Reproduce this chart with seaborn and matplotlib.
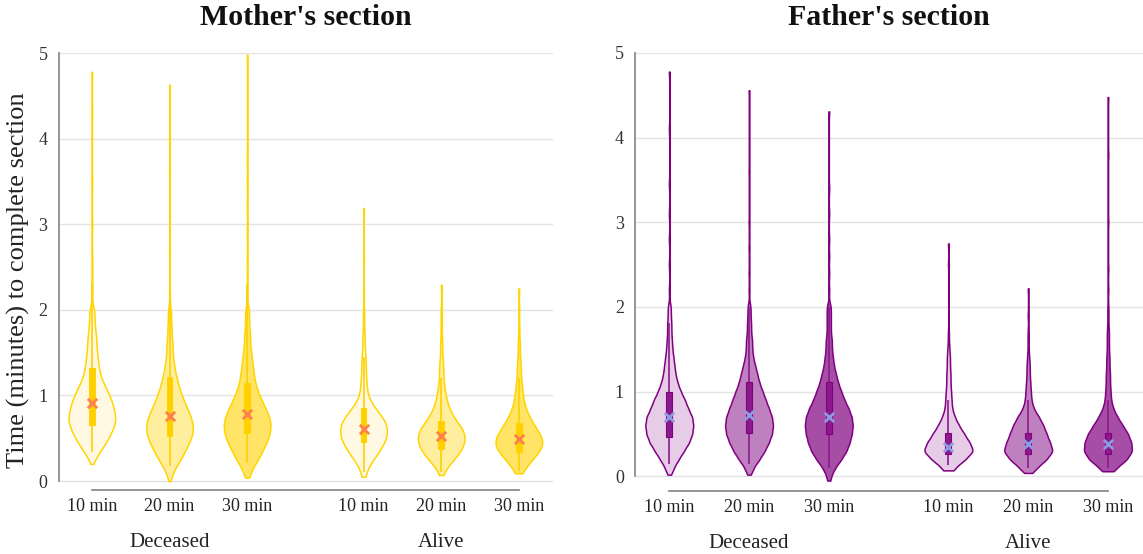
import numpy as np
import pandas as pd
import matplotlib
matplotlib.use("Agg")
import matplotlib.pyplot as plt
import seaborn as sns

# ---------------- data ----------------
statuses = ["Deceased", "Alive"]
times = ["10 min", "20 min", "30 min"]

# binned response times (minutes): bin values and counts per violin
value_grid = [0.0, 0.1, 0.2, 0.3, 0.4, 0.5, 0.6, 0.7, 0.8, 0.9, 1.0,
              1.1, 1.2, 1.3, 1.4, 1.5, 1.6, 1.7, 1.8, 1.9, 2.0]

# Mother's section
mother_deceased_10_counts = [0, 0, 0, 10, 22, 32, 40, 46, 44, 40, 34, 26, 18, 14, 12, 10, 9, 8, 6, 5, 5]
mother_deceased_20_counts = [0, 6, 16, 26, 34, 42, 46, 44, 38, 30, 24, 18, 14, 10, 8, 6, 6, 4, 4, 3, 3]
mother_deceased_30_counts = [0, 6, 16, 26, 34, 42, 46, 46, 40, 32, 24, 18, 14, 12, 10, 8, 6, 6, 4, 4, 4]
mother_alive_10_counts = [0, 4, 12, 24, 34, 42, 44, 40, 28, 16, 8, 6, 5, 4, 4, 3, 2, 2, 1, 1, 1]
mother_alive_20_counts = [0, 4, 16, 30, 40, 44, 40, 28, 18, 12, 8, 6, 4, 4, 3, 2, 2, 1, 1, 1, 1]
mother_alive_30_counts = [0, 6, 18, 32, 44, 44, 34, 24, 16, 10, 8, 6, 4, 4, 3, 2, 2, 1, 1, 0, 0]
# single observations outside the binned body (low tips and long upper tails)
mother_deceased_10_extra = [0.20, 0.25, 2.2, 2.3, 2.45, 2.6, 3.0, 3.5, 4.3, 4.78]
mother_deceased_20_extra = [0.0, 0.05, 2.2, 2.45, 2.7, 3.1, 3.6, 4.0, 4.63]
mother_deceased_30_extra = [0.04, 0.07, 2.2, 2.4, 2.6, 2.9, 3.2, 3.5, 3.75, 4.98]
mother_alive_10_extra = [0.05, 0.08, 2.2, 2.6, 3.19]
mother_alive_20_extra = [0.07, 2.29]
mother_alive_30_extra = [0.09, 2.0, 2.25]

# Father's section
father_deceased_10_counts = [0, 8, 18, 28, 38, 44, 46, 44, 36, 30, 22, 16, 12, 10, 8, 6, 5, 4, 4, 3, 3]
father_deceased_20_counts = [0, 8, 20, 30, 38, 44, 46, 44, 38, 32, 26, 20, 16, 12, 8, 6, 6, 4, 4, 3, 3]
father_deceased_30_counts = [4, 12, 24, 34, 40, 44, 46, 44, 38, 30, 24, 18, 14, 10, 8, 6, 6, 4, 4, 4, 4]
father_alive_10_counts = [0, 12, 32, 48, 40, 30, 20, 12, 7, 6, 5, 4, 4, 3, 3, 2, 1, 0, 0, 0, 0]
father_alive_20_counts = [0, 16, 34, 46, 40, 34, 28, 20, 10, 6, 5, 4, 3, 3, 2, 1, 1, 1, 0, 0, 0]
father_alive_30_counts = [0, 16, 36, 46, 44, 38, 28, 18, 10, 6, 5, 4, 4, 3, 3, 2, 2, 2, 1, 1, 1]
father_deceased_10_extra = [0.02, 0.05, 2.2, 2.5, 2.8, 3.1, 3.45, 4.1, 4.78]
father_deceased_20_extra = [0.02, 0.05, 2.2, 2.4, 2.7, 3.0, 3.6, 4.56]
father_deceased_30_extra = [-0.05, 2.2, 2.4, 2.6, 2.8, 3.1, 3.4, 4.31]
father_alive_10_extra = [0.07, 1.7, 2.5, 2.75]
father_alive_20_extra = [0.04, 1.9, 2.22]
father_alive_30_extra = [0.06, 2.2, 2.45, 3.0, 3.8, 4.48]

# box statistics per violin (Deceased 10/20/30, Alive 10/20/30)
mother_q1 = [0.66, 0.53, 0.56, 0.45, 0.37, 0.34]
mother_q3 = [1.32, 1.22, 1.14, 0.85, 0.70, 0.68]
mother_mean = [0.91, 0.76, 0.78, 0.61, 0.52, 0.49]
mother_whisk_lo = [0.34, 0.17, 0.21, 0.10, 0.10, 0.12]
mother_whisk_hi = [2.31, 2.23, 2.30, 1.45, 1.20, 1.20]

father_q1 = [0.47, 0.51, 0.50, 0.26, 0.26, 0.26]
father_q3 = [1.00, 1.11, 1.11, 0.51, 0.51, 0.51]
father_mean = [0.70, 0.72, 0.70, 0.35, 0.38, 0.38]
father_whisk_lo = [0.15, 0.14, 0.10, 0.13, 0.10, 0.10]
father_whisk_hi = [1.81, 2.00, 2.00, 0.90, 0.90, 0.90]

y_ticks = [0, 1, 2, 3, 4, 5]

mother_counts = [mother_deceased_10_counts, mother_deceased_20_counts, mother_deceased_30_counts,
                 mother_alive_10_counts, mother_alive_20_counts, mother_alive_30_counts]
mother_extra = [mother_deceased_10_extra, mother_deceased_20_extra, mother_deceased_30_extra,
                mother_alive_10_extra, mother_alive_20_extra, mother_alive_30_extra]
father_counts = [father_deceased_10_counts, father_deceased_20_counts, father_deceased_30_counts,
                 father_alive_10_counts, father_alive_20_counts, father_alive_30_counts]
father_extra = [father_deceased_10_extra, father_deceased_20_extra, father_deceased_30_extra,
                father_alive_10_extra, father_alive_20_extra, father_alive_30_extra]

# ---------------- style ----------------
sns.set_theme(style="white")
plt.rcParams["font.family"] = ["Liberation Serif", "DejaVu Serif"]

GROUP_GAP = 0.5
positions = [i + si * (len(times) + GROUP_GAP) for si in range(len(statuses)) for i in range(len(times))]


def build_frame(counts, extra):
    rows = []
    k = 0
    for si, st in enumerate(statuses):
        for ti, tm in enumerate(times):
            vals = list(np.repeat(value_grid, counts[k])) + list(extra[k])
            for v in vals:
                rows.append({"pos": positions[k], "status": st, "time": tm, "value": float(v)})
            k += 1
    return pd.DataFrame(rows)


def fixed_bw(h):
    def f(kde):
        return h / np.std(kde.dataset, ddof=1)
    return f


fig = plt.figure(figsize=(11.43, 5.54), dpi=100)
W, H = 1143, 554
axL = fig.add_axes([58.5 / W, (H - 490) / H, 494.5 / W, 437 / H])
axR = fig.add_axes([635 / W, (H - 490.7) / H, 508 / W, 437.7 / H])

panels = [
    (axL, "Mother's section", mother_counts, mother_extra, mother_q1, mother_q3, mother_mean,
     mother_whisk_lo, mother_whisk_hi, ["#FFF9E3", "#FFEE9E", "#FFE466"], "#FFD500", "#FFD000",
     "#FF7F50", (-0.105, 5.0), 0.065),
    (axR, "Father's section", father_counts, father_extra, father_q1, father_q3, father_mean,
     father_whisk_lo, father_whisk_hi, ["#E6CCE6", "#BF80BF", "#A64DA6"], "#800080", "#8B1A8B",
     "#8E9BE0", (-0.17, 5.0), 0.055),
]

for (ax, title, counts, extra, q1, q3, mean, wlo, whi, fills, edge, boxc, meanc, ylim, bw) in panels:
    df = build_frame(counts, extra)
    ax.set_axisbelow(True)
    ax.yaxis.grid(True, color="#e3e3e3", linewidth=1)
    ax.xaxis.grid(False)
    sns.violinplot(data=df, x="pos", y="value", hue="time", hue_order=times, palette=fills,
                   native_scale=True, dodge=False, inner=None, cut=0, density_norm="width",
                   width=0.6, bw_method=fixed_bw(bw), linecolor=edge, linewidth=1.1, saturation=1,
                   legend=False, gridsize=400, ax=ax)
    ax.vlines(positions, wlo, whi, color=boxc, linewidth=1.2, zorder=3)
    ax.bar(positions, np.array(q3) - np.array(q1), bottom=q1, width=0.075, color=boxc,
           edgecolor=edge, linewidth=0.8, zorder=4)
    ax.scatter(positions, mean, marker="x", s=45, linewidths=2, color=meanc, zorder=5)

    ax.set_xlim(-0.43, 5.94)
    ax.set_ylim(*ylim)
    ax.set_yticks(y_ticks)
    ax.set_xticks(positions)
    ax.set_xticklabels(times * len(statuses))
    ax.tick_params(axis="x", length=0, pad=6, labelsize=13, labelcolor="#222222")
    ax.tick_params(axis="y", length=5, width=1, color="#888888", pad=3, labelsize=13, labelcolor="#333333")
    for s in ["top", "right"]:
        ax.spines[s].set_visible(False)
    ax.spines["left"].set_color("#888888")
    ax.spines["bottom"].set_color("#888888")
    ax.spines["left"].set_bounds(0, 5)
    ax.spines["bottom"].set_bounds(positions[0], positions[-1])
    ax.set_xlabel("")
    ax.set_ylabel("")
    ax.set_title(title, fontsize=21.5, fontweight="bold", pad=20, color="#111111")
    for si, st in enumerate(statuses):
        cx = np.mean(positions[si * len(times):(si + 1) * len(times)])
        ax.text(cx, -0.121, st, transform=ax.get_xaxis_transform(), ha="center", va="center",
                fontsize=15, color="#222222")

axL.set_ylabel("Time (minutes) to complete section", fontsize=19, color="#222222")
axL.yaxis.set_label_coords(-0.057, 0.48)

fig.savefig("out.png", dpi=100)
